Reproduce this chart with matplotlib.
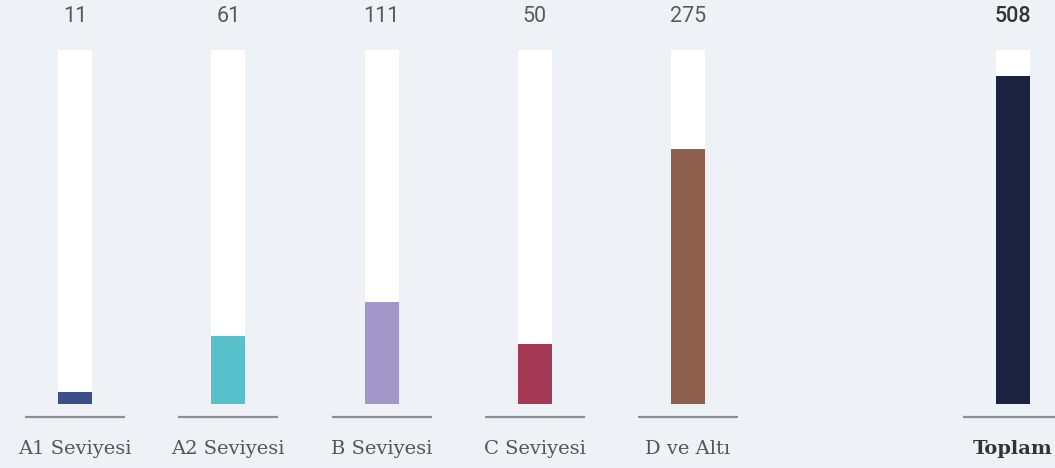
import matplotlib.pyplot as plt

# data
categories = ["A1 Seviyesi", "A2 Seviyesi", "B Seviyesi", "C Seviyesi", "D ve Altı", "Toplam"]
counts = [11, 61, 111, 50, 275, 508]
fill_pct = [3.4, 19.2, 28.8, 16.9, 72.0, 92.7]  # filled share of each track, %
colors = ["#3b4f8c", "#58c0ca", "#a396c8", "#a63a55", "#8f5f4d", "#1c2340"]
xpos = [0, 1, 2, 3, 4, 6.12]

bg = "#eef2f6"
fig = plt.figure(figsize=(10.55, 4.68), dpi=100, facecolor=bg)
ax = fig.add_axes([0, 0, 1, 1])
ax.set_facecolor(bg)

px = 153.25  # pixels per category step
ax.set_xlim(-75 / px, (1055 - 75) / px)
py = 3.54  # pixels per percent
ax.set_ylim(-(468 - 404) / py, 404 / py)

w = 34 / px
for i, (x, n, p, c, lab) in enumerate(zip(xpos, counts, fill_pct, colors, categories)):
    total = lab == "Toplam"
    ax.bar(x, 100, width=w, color="white", zorder=1)
    ax.bar(x, p, width=w, color=c, zorder=2)
    ax.plot([x - 50 / px, x + 50 / px], [-3.8, -3.8], color="#8a8f94", lw=1.6,
            solid_capstyle="butt", zorder=1)
    ax.text(x, (404 - 17) / py, str(n), ha="center", va="center",
            fontsize=15.5, family="Roboto", color="#333333" if total else "#5a5a5a",
            fontweight="medium" if total else "normal")
    ax.text(x, (404 - 449) / py, lab, ha="center", va="center",
            fontsize=14, family="DejaVu Serif", color="#333333" if total else "#555555",
            fontweight="semibold" if total else "normal")

ax.axis("off")
fig.savefig("out.png", dpi=100, facecolor=bg)
